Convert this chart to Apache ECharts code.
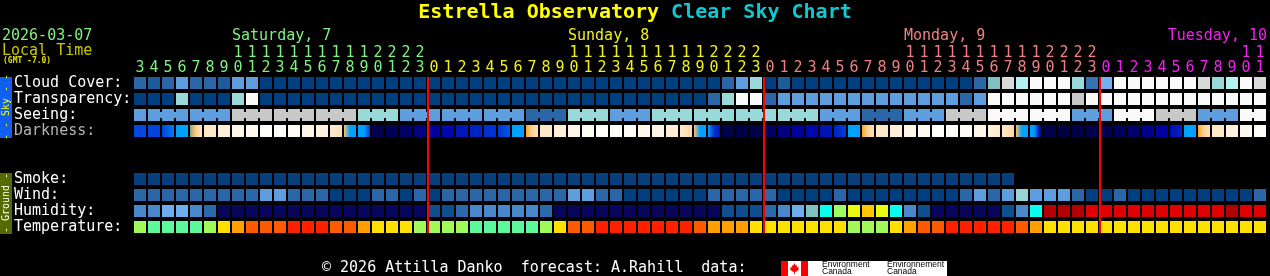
<!DOCTYPE html>
<html><head><meta charset="utf-8">
<script src="https://cdn.jsdelivr.net/npm/echarts@6.0.0/dist/echarts.min.js"></script>
<style>html,body{margin:0;padding:0;background:#000;overflow:hidden}#chart{width:1270px;height:276px}</style>
</head><body><div id="chart"></div>
<script>
// ---------------- data ----------------
const hours = [3,4,5,6,7,8,9,10,11,12,13,14,15,16,17,18,19,20,21,22,23,
  0,1,2,3,4,5,6,7,8,9,10,11,12,13,14,15,16,17,18,19,20,21,22,23,
  0,1,2,3,4,5,6,7,8,9,10,11,12,13,14,15,16,17,18,19,20,21,22,23,
  0,1,2,3,4,5,6,7,8,9,10,11];
const dayNames = ['Saturday, 7','Sunday, 8','Monday, 9','Tuesday, 10'];
const dateText = '2026-03-07';
const rowNames = ['Cloud Cover:','Transparency:','Seeing:','Darkness:','','','Smoke:','Wind:','Humidity:','Temperature:'];

// cloud cover level 0 (clear) .. 10 (overcast)
const cloudCover = [2,1,2,4,2,2,1,4,4,0,0,0,0,0,0,0,0,0,0,0,0,
  0,0,0,0,0,0,0,0,0,0,0,0,0,0,0,0,0,0,0,0,0,2,4,7,
  0,1,0,0,0,0,0,0,0,0,0,0,0,0,0,2,6,9,8,10,10,10,7,3,
  5,10,10,10,10,10,10,9,7,8,10,9];
// transparency level 0 (transparent) .. 5 (too cloudy)
const transparency = [0,0,0,3,0,0,0,3,5,0,0,0,0,0,0,0,0,0,0,0,0,
  0,0,0,0,0,0,0,0,0,0,0,0,0,0,0,0,0,0,0,0,1,3,5,5,
  1,2,2,2,2,2,2,2,2,2,2,2,2,2,1,2,5,5,5,5,5,5,4,5,
  5,5,5,5,5,5,5,5,5,5,5,5];
// seeing level 0 (excellent) .. 5 (bad), 3-hour blocks
const seeing = [2,2,2,2,2,2,2,4,4,4,4,4,4,4,4,4,3,3,3,2,2,
  2,2,2,2,2,2,2,1,1,1,3,3,3,2,2,2,3,3,3,3,3,3,3,3,
  3,3,3,3,2,2,2,1,1,1,2,2,2,4,4,4,5,5,5,5,5,5,2,2,
  2,5,5,5,4,4,4,2,2,2,5,5];
// darkness: 0 (dark) .. 15 (daylight); arrays = change within the hour
const darkness = [8,7.8,[7.8,8.6],9,[9.5,10.5,11.5,12],12.3,13,13.6,14.3,15,15,14.4,13.8,13.2,[12.6,11.8],[10.6,9,9],[9,9,7.5],1.3,1.8,2.6,3.5,
  4.7,5.3,6,6.5,7,[7.2,8.2],9,[10,11,11.8],12.3,13,13.8,14.5,15,15,14.6,14,13.4,12.8,[12.4,11.4],[10.6,9,9],[9,7,6],1.2,1,1.2,
  2.4,3.6,4.5,5.3,5.8,[6.3,7.6],9,[10,11,11.8],12.3,13,13.8,14.4,15,15,14.4,13.8,[13.2,12.5],[12.3,11.3],[10.5,9,9],[9,9,7,1],1,0.8,1,1.2,
  1.6,2,2.8,3.8,4.7,[5.5,6.5],9,[10,11,11.8],12.3,13.2,14,14.8];
const smoke = [0,0,0,0,0,0,0,0,0,0,0,0,0,0,0,0,0,0,0,0,0,
  0,0,0,0,0,0,0,0,0,0,0,0,0,0,0,0,0,0,0,0,0,0,0,0,
  0,0,0,0,0,0,0,0,0,0,0,0,0,0,0,0,0,0];
// wind level 0 (calm) .. 3
const wind = [1,1,1,1,1,1,1,1,1,2,2,1,1,1,0,0,0,1,1,0,1,
  0,1,1,1,1,1,1,1,1,1,2,2,1,1,0,0,0,0,0,0,1,1,1,1,
  1,0,0,0,0,1,0,0,0,0,0,0,0,0,1,2,1,2,3,2,2,2,1,0,
  0,1,0,0,0,0,0,0,0,0,0,1];
// humidity level 0 (dry) .. 11 (saturated)
const humidity = [3,3,4,4,3,2,0,0,0,0,0,0,0,0,0,0,0,0,0,0,0,
  1,1,2,3,3,3,3,3,2,0,0,0,0,0,0,0,0,0,0,0,0,1,1,1,
  2,3,4,5,6,7,8,9,8,6,3,1,0,0,0,0,0,1,3,6,10,10,10,11,
  11,11,11,11,11,11,11,11,11,10,11,11];
// temperature level 0 (cool) .. 5 (hot)
const temperature = [1,0,0,0,0,1,2,3,4,4,4,5,5,5,4,4,3,2,2,2,1,
  1,1,1,0,0,0,0,0,1,2,4,4,5,5,5,5,5,5,5,4,3,3,3,2,
  2,2,2,2,2,2,1,1,1,2,3,4,4,5,5,5,5,5,4,3,2,2,2,2,
  2,2,2,2,2,2,2,2,2,2,2,2];

// ---------------- styles ----------------
const FONT = 'DejaVu Sans Mono';
const dayColors = ['#80f080','#f0f020','#f08080','#f020f0'];
const cloudColors = ['#003f7f','#1d5b9b','#2a66a8','#3572b4','#5e9ede','#72b2f2','#80c0c0','#99d9d9','#b4f2f2','#dadada','#fafafa'];
const levelColors = ['#003f7f','#2a66a8','#5e9ede','#99d9d9','#c8c8c8','#fafafa'];
const windColors = ['#003f7f','#2a66a8','#5e9ede','#99d4d4'];
const smokeColors = ['#073e7c'];
const humColors = ['#08065c','#0f4f8f','#2b69ab','#4a88cc','#6eaeee','#80c0c0','#08fff0','#a0fe60','#eafa10','#ffc800','#b40000','#e00000'];
const tempColors = ['#5cfa9c','#a2fa5a','#ffe000','#ffa000','#ff5a00','#ff2000'];
const darkStops = ['#000030','#000048','#000058','#000070','#000090','#0000a8','#0018b8','#0030d0','#0048e0','#00a0ff','#f0a830','#ffd098','#ffe4c0','#fff0da','#fff8ec','#fffffa'];

function hex2rgb(h){return [parseInt(h.substr(1,2),16),parseInt(h.substr(3,2),16),parseInt(h.substr(5,2),16)];}
function darkColor(v){
  const i=Math.max(0,Math.min(darkStops.length-2,Math.floor(v)));
  const t=Math.max(0,Math.min(1,v-i));
  const a=hex2rgb(darkStops[i]), b=hex2rgb(darkStops[i+1]);
  return 'rgb('+a.map((x,k)=>Math.round(x+(b[k]-x)*t)).join(',')+')';
}

const dayOf=[]; (function(){let d=0; hours.forEach((h,i)=>{if(i>0&&h===0)d++; dayOf.push(d);});})();
const midnights = hours.map((h,i)=>(i>0&&h===0)?i:-1).filter(i=>i>=0);
const cats = hours.map((h,i)=>'c'+i);
const rowCats = rowNames.map((n,i)=>'r'+i);

function cellRect(api, i, row){
  const c=api.coord([i,row]); const s=api.size([1,1]);
  return {x:Math.round(c[0]-s[0]/2)+1, y:Math.round(c[1]-s[1]/2)+2, w:Math.round(s[0])-2, h:Math.round(s[1])-4};
}
function cellSeries(row, values, colorFn, connect){
  return {
    type:'custom', silent:true, animation:false, z:2,
    data: values.map((v,i)=>[i,row]),
    renderItem(params, api){
      const i=api.value(0); const r=cellRect(api,i,api.value(1));
      const children=[{type:'rect',shape:{x:r.x,y:r.y,width:r.w,height:r.h},style:{fill:colorFn(values[i])}}];
      if(connect && i%3!==0 && i<values.length-1){
        children.push({type:'rect',shape:{x:r.x+r.w,y:r.y+3,width:2,height:r.h-6},style:{fill:colorFn(values[i])}});
      }
      return {type:'group',children};
    }
  };
}
function darkFill(v){
  if(Array.isArray(v)){
    return new echarts.graphic.LinearGradient(0,0,1,0,v.map((x,k)=>({offset:k/(v.length-1),color:darkColor(x)})));
  }
  return darkColor(v);
}

const chart = echarts.init(document.getElementById('chart'), null, {renderer:'canvas'});
const hourRich = {}; dayColors.forEach((c,k)=>{hourRich['d'+k]={color:c,fontFamily:FONT,fontSize:15};});

chart.setOption({
  backgroundColor:'#000',
  animation:false,
  grid:{left:133, top:75, width:1134, height:160},
  xAxis:[
    {type:'category', data:cats, position:'top', axisLine:{show:false}, axisTick:{show:false}, splitLine:{show:false},
     axisLabel:{interval:0, margin:-1, fontFamily:FONT, fontSize:15, rich:hourRich,
       formatter:(v,i)=>'{d'+dayOf[i]+'|'+(hours[i]%10)+'}'}},
    {type:'category', data:cats, position:'top', offset:15, axisLine:{show:false}, axisTick:{show:false}, splitLine:{show:false},
     axisLabel:{interval:0, margin:-1, fontFamily:FONT, fontSize:15, rich:hourRich,
       formatter:(v,i)=>hours[i]>=10?'{d'+dayOf[i]+'|'+Math.floor(hours[i]/10)+'}':''}}
  ],
  yAxis:{type:'category', data:rowCats, inverse:true, axisLine:{show:false}, axisTick:{show:false}, splitLine:{show:false},
    axisLabel:{interval:0, align:'left', margin:119, fontFamily:FONT, fontSize:15,
      rich:{w:{color:'#ffffff',fontFamily:FONT,fontSize:15}, g:{color:'#b4b4b4',fontFamily:FONT,fontSize:15}},
      formatter:(v,i)=>rowNames[i]?('{'+(rowNames[i]==='Darkness:'?'g':'w')+'|'+rowNames[i]+'}'):''}},
  series:[
    cellSeries(0, cloudCover, v=>cloudColors[v]),
    cellSeries(1, transparency, v=>levelColors[v]),
    cellSeries(2, seeing, v=>levelColors[v], true),
    cellSeries(3, darkness, darkFill),
    cellSeries(6, smoke, v=>smokeColors[v]),
    cellSeries(7, wind, v=>windColors[v]),
    cellSeries(8, humidity, v=>humColors[v]),
    cellSeries(9, temperature, v=>tempColors[v]),
    {type:'custom', silent:true, z:5, data:midnights.map(i=>[i,0]),
     renderItem(params, api){
       const c=api.coord([api.value(0),0]); const s=api.size([1,1]); const cs=params.coordSys;
       return {type:'rect', shape:{x:Math.round(c[0]-s[0]/2), y:cs.y+2, width:2, height:cs.height-4}, style:{fill:'#ff0000'}};
     }}
  ]
});

// ---------------- texts & decorations ----------------
const ctx=document.createElement('canvas').getContext('2d');
function tw(t,size,weight){ctx.font=(weight||'normal')+' '+size+'px "'+FONT+'"';return ctx.measureText(t).width;}
const t1='Estrella Observatory ', t2='Clear Sky Chart';
const tWidth=tw(t1+t2,20,'bold'); const tx=635-tWidth/2;
const gridRight=chart.convertToPixel({xAxisIndex:0},hours.length-1)+7;
const g=[];
g.push({type:'text',x:tx,y:13,style:{text:t1,fill:'#ffff00',fontFamily:FONT,fontSize:20,fontWeight:'bold',align:'left',verticalAlign:'middle'}});
g.push({type:'text',x:tx+tw(t1,20,'bold'),y:13,style:{text:t2,fill:'#10c8d0',fontFamily:FONT,fontSize:20,fontWeight:'bold',align:'left',verticalAlign:'middle'}});
g.push({type:'text',x:2,y:36,style:{text:dateText,fill:dayColors[0],fontFamily:FONT,fontSize:15,verticalAlign:'middle'}});
g.push({type:'text',x:2,y:51,style:{text:'Local Time',fill:'#c8c800',fontFamily:FONT,fontSize:15,verticalAlign:'middle'}});
g.push({type:'text',x:3,y:61,style:{text:'(GMT -7.0)',fill:'#e0e000',fontFamily:FONT,fontSize:8,fontWeight:'bold',verticalAlign:'middle'}});
dayNames.forEach((name,k)=>{
  let col=hours.findIndex((h,i)=>dayOf[i]===k&&h===10);
  const w=tw(name,15);
  let x = col>=0 ? chart.convertToPixel({xAxisIndex:0},col)-7+1 : gridRight-w;
  if(x+w>gridRight) x=gridRight-w;
  g.push({type:'text',x:x,y:36,style:{text:name,fill:dayColors[k],fontFamily:FONT,fontSize:15,verticalAlign:'middle'}});
});
// side bars
g.push({type:'rect',shape:{x:0,y:77,width:12,height:61},style:{fill:'#1060f0'}});
g.push({type:'text',x:6,y:107,rotation:Math.PI/2,style:{text:'- - Sky - -',fill:'#ffff00',fontFamily:FONT,fontSize:10,align:'center',verticalAlign:'middle'}});
g.push({type:'rect',shape:{x:0,y:173,width:12,height:61},style:{fill:'#556b00'}});
g.push({type:'text',x:6,y:203,rotation:Math.PI/2,style:{text:'- Ground -',fill:'#ffffff',fontFamily:FONT,fontSize:10,align:'center',verticalAlign:'middle'}});
// footer
g.push({type:'text',x:322,y:268,style:{text:'\u00a9 2026 Attilla Danko  forecast: A.Rahill  data:',fill:'#ffffff',fontFamily:FONT,fontSize:15,verticalAlign:'middle'}});
g.push({type:'rect',shape:{x:781,y:261,width:166,height:15},style:{fill:'#ffffff'}});
g.push({type:'rect',shape:{x:781,y:261,width:7,height:15},style:{fill:'#ff0000'}});
g.push({type:'rect',shape:{x:801,y:261,width:7,height:15},style:{fill:'#ff0000'}});
const leaf=[[0,-6],[1.5,-3],[3,-4],[2.5,-1],[5,-2],[4,0.5],[5.5,1],[2,3],[2.5,4],[0.5,3.5],[0.5,6],[-0.5,6],[-0.5,3.5],[-2.5,4],[-2,3],[-5.5,1],[-4,0.5],[-5,-2],[-2.5,-1],[-3,-4],[-1.5,-3]];
g.push({type:'polygon',shape:{points:leaf.map(p=>[794.5+p[0]*0.9,268.5+p[1]*0.9])},style:{fill:'#ff0000'}});
[['Environment',822],['Environnement',887]].forEach(([t,x])=>{
  g.push({type:'text',x:x,y:265,style:{text:t,fill:'#000',fontFamily:'Liberation Sans',fontSize:8.5,verticalAlign:'middle'}});
  g.push({type:'text',x:x,y:272,style:{text:'Canada',fill:'#000',fontFamily:'Liberation Sans',fontSize:8.5,verticalAlign:'middle'}});
});
chart.setOption({graphic:g});
</script></body></html>
